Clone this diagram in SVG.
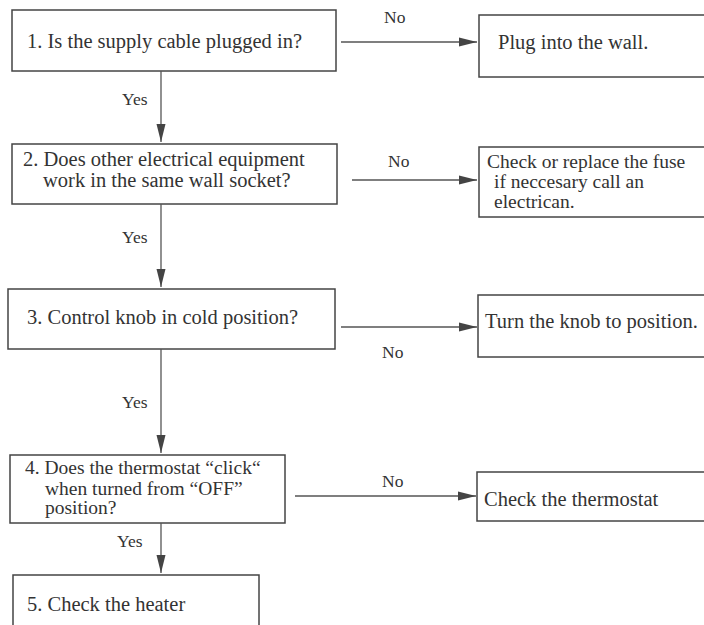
<svg xmlns="http://www.w3.org/2000/svg" width="704" height="625" viewBox="0 0 704 625">
<style>
.box{fill:#fff;stroke:#444;stroke-width:1.5}
.t{font-family:"Liberation Serif","Times New Roman",serif;font-size:20.5px;fill:#333}
.m{font-size:19.5px}
.lbl{font-family:"Liberation Serif","Times New Roman",serif;font-size:17.5px;fill:#333}
.c line{stroke:#555;stroke-width:1.3;fill:none;marker-end:url(#ah)}
</style>
<defs>
<marker id="ah" markerUnits="userSpaceOnUse" markerWidth="18" markerHeight="10" refX="18" refY="5" orient="auto">
<path d="M0,0.5 L18,5 L0,9.5 z" fill="#444"/>
</marker>
</defs>
<rect width="704" height="625" fill="#fff"/>
<g id="n1"><rect class="box" x="12" y="10" width="324" height="61"/><text class="t" x="27" y="48">1. Is the supply cable plugged in?</text></g>
<g id="n1no"><rect class="box" x="479" y="15" width="240" height="62"/><text class="t" x="498" y="49">Plug into the wall.</text></g>
<g id="n2"><rect class="box" x="12" y="144" width="325" height="60"/><text class="t" x="23" y="166">2. Does other electrical equipment</text><text class="t" x="43" y="187">work in the same wall socket?</text></g>
<g id="n2no"><rect class="box" x="479" y="147" width="240" height="70"/><text class="t m" x="487" y="168">Check or replace the fuse</text><text class="t m" x="494" y="188">if neccesary call an</text><text class="t m" x="494" y="208">electrican.</text></g>
<g id="n3"><rect class="box" x="8" y="289" width="327" height="60"/><text class="t" x="27" y="324">3. Control knob in cold position?</text></g>
<g id="n3no"><rect class="box" x="478" y="295" width="240" height="62"/><text class="t" x="485" y="328">Turn the knob to position.</text></g>
<g id="n4"><rect class="box" x="10" y="455" width="275" height="68"/><text class="t m" x="25" y="474">4. Does the thermostat “click“</text><text class="t m" x="45" y="495">when turned from “OFF”</text><text class="t m" x="45" y="514">position?</text></g>
<g id="n4no"><rect class="box" x="477" y="472" width="240" height="49"/><text class="t" x="484" y="506">Check the  thermostat</text></g>
<g id="n5"><rect class="box" x="13" y="575" width="246" height="70"/><text class="t" x="27" y="611">5. Check the heater</text></g>
<g id="connectors" class="c">
<line x1="341" y1="42" x2="477" y2="42"/>
<line x1="352" y1="180" x2="477" y2="180"/>
<line x1="341" y1="327" x2="477" y2="327"/>
<line x1="295" y1="496" x2="476" y2="496"/>
<line x1="161" y1="71" x2="161" y2="142"/>
<line x1="161" y1="204" x2="161" y2="287"/>
<line x1="161" y1="349" x2="161" y2="453"/>
<line x1="161" y1="523" x2="161" y2="573"/>
</g>
<g id="labels">
<text class="lbl" x="384" y="23">No</text>
<text class="lbl" x="388" y="167">No</text>
<text class="lbl" x="382" y="358">No</text>
<text class="lbl" x="382" y="487">No</text>
<text class="lbl" x="122" y="105">Yes</text>
<text class="lbl" x="122" y="243">Yes</text>
<text class="lbl" x="122" y="408">Yes</text>
<text class="lbl" x="117" y="547">Yes</text>
</g>
</svg>
